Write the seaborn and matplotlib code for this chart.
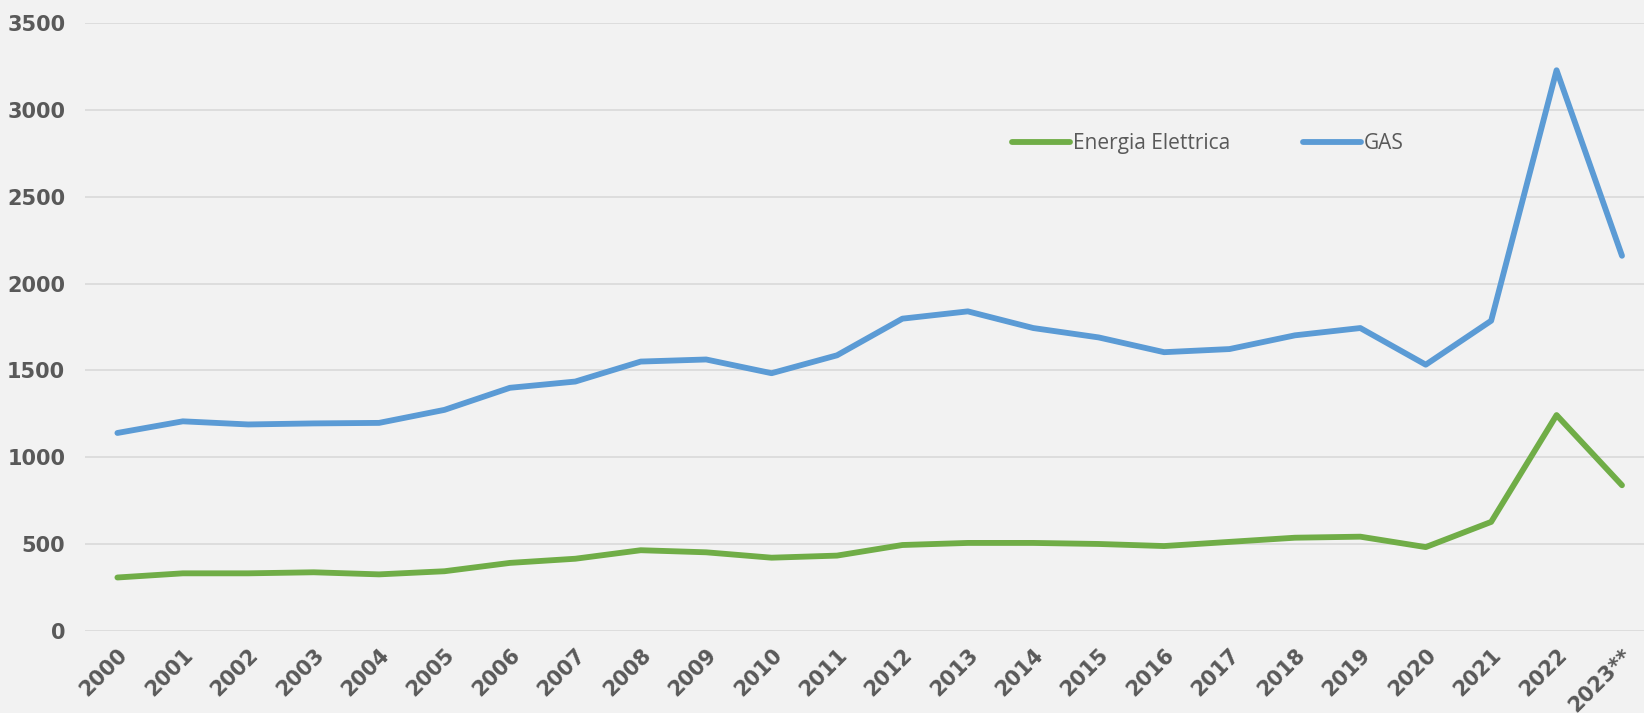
import numpy as np
import pandas as pd
import seaborn as sns
import matplotlib.pyplot as plt

# years (last one is provisional)
years = ['2000', '2001', '2002', '2003', '2004', '2005', '2006', '2007', '2008', '2009',
         '2010', '2011', '2012', '2013', '2014', '2015', '2016', '2017', '2018', '2019',
         '2020', '2021', '2022', '2023**']

energia = [308, 332, 332, 338, 326, 344, 392, 416, 465, 453,
           422, 434, 495, 507, 507, 501, 489, 513, 537, 543,
           483, 628, 1243, 839]

gas = [1140, 1207, 1189, 1195, 1198, 1273, 1400, 1436, 1551, 1563,
       1484, 1587, 1798, 1840, 1744, 1690, 1605, 1623, 1702, 1744,
       1533, 1786, 3228, 2160]

series_names = ['Energia Elettrica', 'GAS']
colors = ['#70AD47', '#5B9BD5']

pos = np.arange(len(years))
df = pd.DataFrame({
    'pos': np.concatenate([pos, pos]),
    'valore': energia + gas,
    'serie': [series_names[0]] * len(years) + [series_names[1]] * len(years),
})

sns.set_style('white')
plt.rcParams['font.family'] = ['DejaVu Sans']

fig = plt.figure(figsize=(16.44, 7.13), dpi=100, facecolor='#F2F2F2')
ax = fig.add_axes([84.7 / 1644, 82 / 713, 1570 / 1644, 608 / 713])
ax.set_facecolor('#F2F2F2')

sns.lineplot(data=df, x='pos', y='valore', hue='serie', palette=colors,
             linewidth=4.2, ax=ax, legend=True)
for line in ax.lines:
    line.set_solid_capstyle('round')

ax.set_xlim(-0.5, len(years) - 0.5)
ax.set_ylim(0, 3500)
ax.set_yticks(np.arange(0, 3501, 500))
ax.set_xticks(pos)
ax.set_xticklabels(years, rotation=45, ha='right', rotation_mode='anchor')
ax.tick_params(axis='both', length=0, labelsize=15, labelcolor='#595959')
ax.tick_params(axis='y', pad=14)
ax.tick_params(axis='x', pad=10)
for lab in ax.get_xticklabels() + ax.get_yticklabels():
    lab.set_fontweight('bold')

ax.grid(axis='y', color='#D9D9D9', linewidth=1.2)
ax.set_axisbelow(True)
for s in ax.spines.values():
    s.set_visible(False)
ax.set_xlabel('')
ax.set_ylabel('')

handles, labels = ax.get_legend_handles_labels()
ax.legend(handles, labels, loc='center left', bbox_to_anchor=(1012 / 1644, 1 - 143.6 / 713),
          bbox_transform=fig.transFigure, ncol=2, frameon=False, borderpad=0,
          borderaxespad=0, handlelength=2.8, handletextpad=0.12, columnspacing=3.5,
          prop={'family': 'Open Sans', 'size': 15}, labelcolor='#595959')

fig.savefig('out.png', dpi=100, facecolor=fig.get_facecolor())
